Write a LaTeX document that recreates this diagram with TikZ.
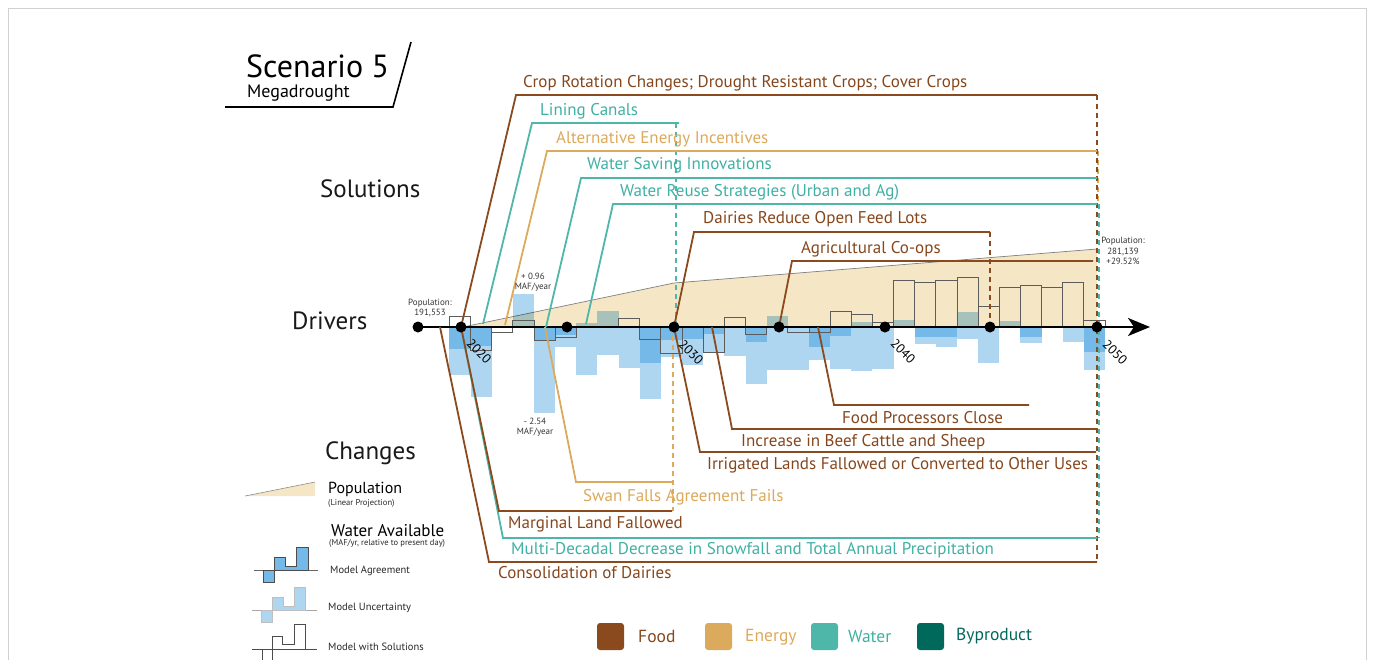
\documentclass[tikz,border=0pt]{standalone}
\usepackage{fontspec}
\setmainfont{PT Sans}
\usetikzlibrary{arrows.meta}
\definecolor{food}{HTML}{8B4A1E}
\definecolor{energy}{HTML}{DBAA5C}
\definecolor{water}{HTML}{4FB6AA}
\definecolor{byprod}{HTML}{00695C}
\definecolor{foodtxt}{HTML}{86461C}
\definecolor{energytxt}{HTML}{DCA95A}
\definecolor{watertxt}{HTML}{3FB0A4}
\definecolor{popfill}{HTML}{F5E7C6}
\definecolor{lblue}{HTML}{AED6F1}
\definecolor{dblue}{HTML}{74B9E8}
\definecolor{boxgray}{HTML}{5C5C5C}
\definecolor{frame}{HTML}{D0D0D0}
\begin{document}
\begin{tikzpicture}[x=1pt,y=-1pt,
  lab/.style={anchor=base west,inner sep=0pt,font=\fontsize{17}{20}\selectfont},
  foodl/.style={draw=food,line width=1.8pt},
  energyl/.style={draw=energy,line width=1.8pt},
  waterl/.style={draw=water,line width=1.8pt},
  dashl/.style={line width=1.1pt,dash pattern=on 5pt off 4pt},
  dot/.style={circle,fill=black,inner sep=0pt,minimum size=11pt},
  yearlab/.style={rotate=-45,inner sep=0pt,font=\fontsize{13}{15}\selectfont},
  small/.style={align=center,inner sep=0pt,font=\fontsize{9}{10.5}\selectfont,text=black!80},
  head/.style={anchor=base west,inner sep=0pt,font=\fontsize{25}{29}\selectfont,text=black!90},
  leg/.style={anchor=west,inner sep=0pt,font=\fontsize{10.5}{12}\selectfont,text=black!85},
  tiny/.style={anchor=west,inner sep=0pt,font=\fontsize{8.5}{10}\selectfont,text=black!85},
  sq/.style={rounded corners=3pt,minimum size=27pt,inner sep=0pt},
  bleg/.style={anchor=west,inner sep=0pt,font=\fontsize{17.5}{20}\selectfont}]
\useasboundingbox (0,0) rectangle (1373,659);
% frame
\draw[frame,line width=0.8pt] (8,700) -- (8,8) -- (1366,8) -- (1366,700);

% title
\node[anchor=base west,inner sep=0pt,font=\fontsize{32}{36}\selectfont] (title) at (246,77) {Scenario 5};
\node[anchor=base west,inner sep=0pt,font=\fontsize{18}{20}\selectfont] (subtitle) at (247,97) {Megadrought};
\draw[line width=1.6pt] (225,107) -- (393,107) -- (411,42);

% section heads
\node[head] (solutions) at (320,197) {Solutions};
\node[head] (drivers) at (292,329) {Drivers};
\node[head] (changes) at (325,459) {Changes};

% population area
\fill[popfill] (463,327) -- (674,283) -- (1097,249) -- (1097,327) -- cycle;
\draw[black!50,line width=0.7pt] (463,327) -- (674,283) -- (1097,249);

% bars: i / dark / light up / light down
\begin{scope}[blend mode=multiply]
\foreach \i/\dk/\lu/\ld in {
0/-22/0/-48, 1/-19/0/-70, 2/0/0/0, 3/0/33/0, 4/-13/0/-86,
5/-8/0/-20, 6/0/4/-48, 7/0/16/-28, 8/0/0/-41, 9/-36/0/-72,
10/-13/0/-30, 11/-12/0/-38, 12/-7/0/-25, 13/0/0/-29, 14/-15/0/-57,
15/0/11/-43, 16/0/0/-43, 17/-20/0/-33, 18/-9/0/-42, 19/0/5/-44,
20/0/0/-42, 21/0/7/0, 22/-10/0/-17, 23/-10/0/-20, 24/0/15/-12,
25/0/0/-36, 26/0/6/0, 27/-10/0/-16, 28/0/0/0, 29/0/0/-15, 30/-25/0/-43}{
  \pgfmathsetmacro{\xl}{449.4+21.15*\i}
  \pgfmathsetmacro{\xr}{\xl+21.15}
  \fill[lblue] (\xl,327) rectangle (\xr,327-\lu);
  \fill[lblue] (\xl,327) rectangle (\xr,327-\ld);
}
\end{scope}
\foreach \i/\dk in {0/-22,1/-19,4/-13,5/-8,9/-36,10/-13,11/-12,12/-7,14/-15,17/-20,18/-9,22/-10,23/-10,27/-10,30/-25}{
  \pgfmathsetmacro{\xl}{449.4+21.15*\i}
  \pgfmathsetmacro{\xr}{\xl+21.15}
  \fill[dblue] (\xl,327) rectangle (\xr,327-\dk);
}
\foreach \i/\bx in {0/11,1/-23,2/-5,3/7,4/-13,5/-10,8/9,9/-12,10/-26,12/-25,13/10,14/-7,
16/-5,17/-5,18/16,19/13,20/5,21/47,22/45,23/47,24/50,25/21,26/40,27/42,28/40,29/45,30/7}{
  \pgfmathsetmacro{\xl}{449.4+21.15*\i}
  \pgfmathsetmacro{\xr}{\xl+21.15}
  \draw[boxgray,line width=0.9pt] (\xl,327) rectangle (\xr,327-\bx);
}

% dashed verticals
\draw[water,dashl] (676,123) -- (676,327);
\draw[energy,dashl] (673,327) -- (673,511);
\draw[food,dashl] (990,232) -- (990,327);
\draw[water,dashl] (1099,204) -- (1099,538);
\draw[energy,dashl] (1098,151) -- (1098,204);
\draw[food,dashl] (1097,95) -- (1097,562);

% axis
\coordinate (axstart) at (418,327);
\coordinate (axend) at (1150,327);
\draw[line width=2.6pt,-{Stealth[length=22pt,width=18pt,inset=6pt]}] (axstart) -- (axend);

% dots
\foreach \n/\x in {start/418,2020/461,2025/567,2030/674,2035/779,2040/885,2045/990,2050/1097}
  \coordinate (p\n) at (\x,327);
% connector anchors on the axis
\coordinate (a1) at (483,324);
\coordinate (a2) at (505,325);
\coordinate (a3) at (546,327);
\coordinate (a4) at (586,324);
\coordinate (a5) at (818,327);
\coordinate (a6) at (712,327);
\coordinate (a7) at (545,327);
\coordinate (a8) at (440,327);

% change lines (below)
\draw[waterl] (p2020) -- (503,538) coordinate (k13) -- (1097,538) coordinate (e13);
\draw[foodl] (p2020) -- (499,511) coordinate (k12) -- (672,511) coordinate (e12);
\draw[foodl] (a8) -- (489,562) coordinate (k14) -- (1097,562) coordinate (e14);
\draw[energyl] (a7) -- (576,482) coordinate (k11) -- (672,482) coordinate (e11);
\draw[foodl] (p2030) -- (700,452) coordinate (k10) -- (1096,452) coordinate (e10);
\draw[foodl] (a6) -- (732,429) coordinate (k9) -- (1096,429) coordinate (e9);
\draw[foodl] (a5) -- (834,405) coordinate (k8) -- (1029,405) coordinate (e8);

% solution lines (above)
\draw[foodl] (p2020) -- (516,95) coordinate (k1) -- (1097,95) coordinate (e1);
\draw[waterl] (a1) -- (532,123) coordinate (k2) -- (679,123) coordinate (e2);
\draw[energyl] (a2) -- (547,151) coordinate (k3) -- (1097,151) coordinate (e3);
\draw[waterl] (a3) -- (581,178) coordinate (k4) -- (1097,178) coordinate (e4);
\draw[waterl] (a4) -- (613,204) coordinate (k5) -- (1097,204) coordinate (e5);
\draw[foodl] (p2030) -- (694,232) coordinate (k6) -- (990,232) coordinate (e6);
\draw[foodl] (p2035) -- (792,261) coordinate (k7) -- (1093,261) coordinate (e7);

% dots on top
\foreach \n in {start,2020,2025,2030,2035,2040,2045,2050}
  \node[dot] (d\n) at (p\n) {};

% year labels
\node[yearlab] (y2020) at (479,351) {2020};
\node[yearlab] (y2030) at (691,352) {2030};
\node[yearlab] (y2040) at (903,351) {2040};
\node[yearlab] (y2050) at (1115,352) {2050};

% labels
\node[lab,text=foodtxt] (t1) at (523,87) {Crop Rotation Changes; Drought Resistant Crops; Cover Crops};
\node[lab,text=watertxt] (t2) at (540,115) {Lining Canals};
\node[lab,text=energytxt] (t3) at (556,143) {Alternative Energy Incentives};
\node[lab,text=watertxt] (t4) at (587,169) {Water Saving Innovations};
\node[lab,text=watertxt] (t5) at (620,196) {Water Reuse Strategies (Urban and Ag)};
\node[lab,text=foodtxt] (t6) at (703,223) {Dairies Reduce Open Feed Lots};
\node[lab,text=foodtxt] (t7) at (801,253) {Agricultural Co-ops};
\node[lab,text=foodtxt] (t8) at (842,423) {Food Processors Close};
\node[lab,text=foodtxt] (t9) at (741,446) {Increase in Beef Cattle and Sheep};
\node[lab,text=foodtxt] (t10) at (707,469) {Irrigated Lands Fallowed or Converted to Other Uses};
\node[lab,text=energytxt] (t11) at (583,501) {Swan Falls Agreement Fails};
\node[lab,text=foodtxt] (t12) at (508,528) {Marginal Land Fallowed};
\node[lab,text=watertxt] (t13) at (511,554) {Multi-Decadal Decrease in Snowfall and Total Annual Precipitation};
\node[lab,text=foodtxt] (t14) at (498,578) {Consolidation of Dairies};

% small annotations
\node[small] (pop1) at (430,308) {Population:\\191,553};
\node[small] (pop2) at (1123,251) {Population:\\281,139\\+29.52\%};
\node[small] (maf1) at (533,282) {+ 0.96\\MAF/year};
\node[small] (maf2) at (535,427) {- 2.54\\MAF/year};

% left legend
\fill[popfill] (245,496) -- (315,482) -- (315,496) -- cycle;
\draw[black!45,line width=0.6pt] (245,496) -- (315,482);
\node[anchor=west,inner sep=0pt,font=\fontsize{16}{18}\selectfont] (lpop) at (328,489) {Population};
\node[tiny] (lpop2) at (328,503) {(Linear Projection)};
\node[anchor=west,inner sep=0pt,font=\fontsize{17}{19}\selectfont] (lwat) at (331,531) {Water Available};
\node[tiny] (lwat2) at (329,543) {(MAF/yr, relative to present day)};

\draw[black!60,line width=0.8pt] (254,570) -- (318,570);
\draw[fill=dblue,draw=black!70,line width=0.8pt] (263,570) -- (263,582) -- (274,582) -- (274,557) -- (285,557) -- (285,566) -- (296,566) -- (296,547) -- (308,547) -- (308,570) -- cycle;
\node[leg] (lagr) at (330,571) {Model Agreement};

\draw[black!35,line width=0.8pt] (252,610) -- (317,610);
\draw[fill=lblue,draw=black!25,line width=0.8pt] (261,610) -- (261,622) -- (272,622) -- (272,597) -- (283,597) -- (283,606) -- (294,606) -- (294,587) -- (305,587) -- (305,610) -- cycle;
\node[leg] (lunc) at (328,608) {Model Uncertainty};

\draw[black!70,line width=0.8pt] (252,649) -- (317,649);
\draw[black!70,line width=0.8pt] (262,662) -- (262,649) (272,662) -- (272,636) -- (282,636) -- (282,644) -- (294,644) -- (294,624) -- (305,624) -- (305,649);
\node[leg] (lsol) at (328,647) {Model with Solutions};

% bottom legend
\node[sq,fill=food] (sqf) at (610.5,636.5) {};
\node[bleg,text=foodtxt] (lf) at (638,636) {Food};
\node[sq,fill=energy] (sqe) at (718.5,636.5) {};
\node[bleg,text=energytxt] (le) at (745,637) {Energy};
\node[sq,fill=water] (sqw) at (824.5,636.5) {};
\node[bleg,text=watertxt] (lw) at (848,636) {Water};
\node[sq,fill=byprod] (sqb) at (930.5,636.5) {};
\node[bleg,text=byprod] (lb) at (956,636) {Byproduct};
\end{tikzpicture}
\end{document}
